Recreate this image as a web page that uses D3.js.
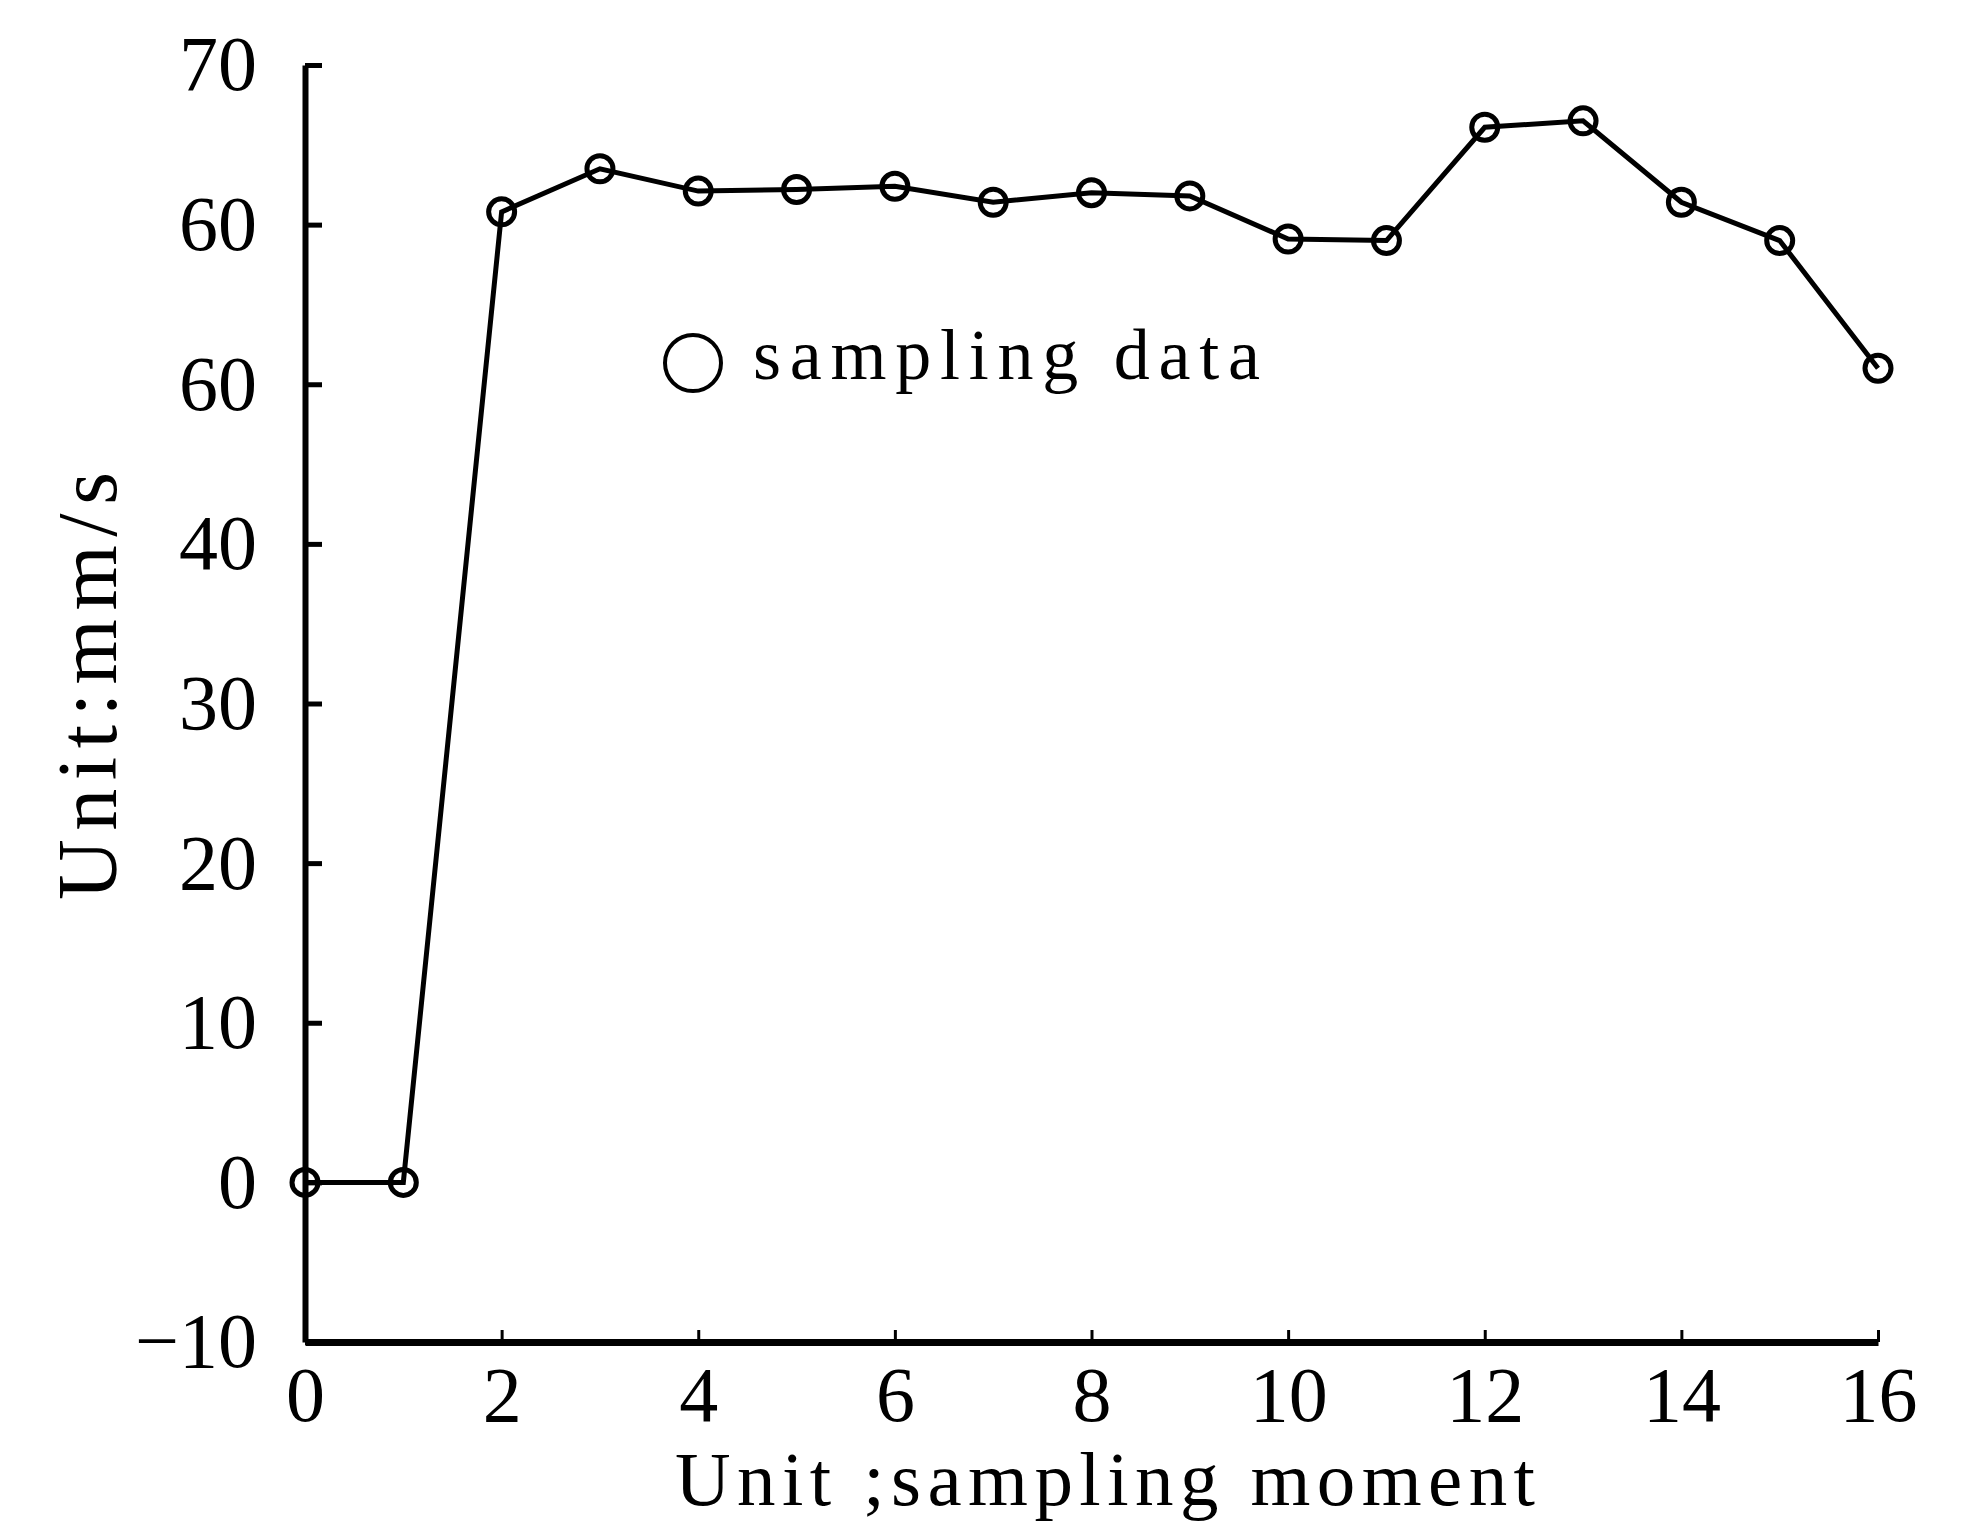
<!DOCTYPE html>
<html>
<head>
<meta charset="utf-8">
<script src="https://cdn.jsdelivr.net/npm/d3@7"></script>
<style>
  body { margin: 0; background: #fff; }
  text { font-family: "Liberation Serif", "DejaVu Serif", serif; fill: #000; }
</style>
</head>
<body>
<div id="chart"></div>
<script>
const width = 1976;
const height = 1523;

// data
const moments = [0, 1, 2, 3, 4, 5, 6, 7, 8, 9, 10, 11, 12, 13, 14, 15, 16];
const speeds = [0, 0, 60.8, 63.5, 62.1, 62.2, 62.4, 61.4, 62.0, 61.8, 59.1, 59.0, 66.1, 66.5, 61.4, 59.0, 51.0];
const xTicks = [0, 2, 4, 6, 8, 10, 12, 14, 16];
const yTicks = [-10, 0, 10, 20, 30, 40, 50, 60, 70];
const yTickLabels = ["\u221210", "0", "10", "20", "30", "40", "60", "60", "70"];

const svg = d3
  .select("#chart")
  .append("svg")
  .attr("width", width)
  .attr("height", height);

const xScale = d3.scaleLinear().domain([0, 16]).range([305, 1878]);
const yScale = d3.scaleLinear().domain([-10, 70]).range([1342, 65]);

// y axis, ticks pointing inward
const yAxis = svg
  .append("g")
  .attr("transform", `translate(${xScale(0)},0)`)
  .call(
    d3.axisLeft(yScale)
      .tickValues(yTicks)
      .tickFormat((d, i) => yTickLabels[i])
      .tickSizeInner(-17)
      .tickSizeOuter(0)
      .tickPadding(48)
  );
yAxis.select(".domain").attr("stroke-width", 6);
yAxis.selectAll(".tick line").attr("stroke-width", 5);
yAxis.selectAll(".tick text").attr("font-size", 78).attr("fill", "#000");

// x axis
const xAxis = svg
  .append("g")
  .attr("transform", `translate(0,${yScale(-10)})`)
  .call(
    d3.axisBottom(xScale)
      .tickValues(xTicks)
      .tickSizeInner(-12)
      .tickSizeOuter(0)
      .tickPadding(24)
  );
xAxis.select(".domain").attr("stroke-width", 7);
xAxis.selectAll(".tick line").attr("stroke-width", 3);
xAxis.selectAll(".tick text").attr("font-size", 78).attr("fill", "#000");

// axis titles
svg
  .append("text")
  .attr("x", 1105)
  .attr("y", 1505)
  .attr("text-anchor", "middle")
  .attr("font-size", 77)
  .attr("textLength", 860)
  .attr("lengthAdjust", "spacing")
  .text("Unit ;sampling moment");

svg
  .append("text")
  .attr("transform", "translate(116,686) rotate(-90)")
  .attr("text-anchor", "middle")
  .attr("font-size", 84)
  .attr("textLength", 428)
  .attr("lengthAdjust", "spacing")
  .text("Unit:mm/s");

// line
const line = d3
  .line()
  .x((d, i) => xScale(moments[i]))
  .y((d) => yScale(d));

svg
  .append("path")
  .datum(speeds)
  .attr("d", line)
  .attr("fill", "none")
  .attr("stroke", "#000")
  .attr("stroke-width", 5);

// markers
svg
  .selectAll("circle.pt")
  .data(speeds)
  .enter()
  .append("circle")
  .attr("class", "pt")
  .attr("cx", (d, i) => xScale(moments[i]))
  .attr("cy", (d) => yScale(d))
  .attr("r", 13)
  .attr("fill", "none")
  .attr("stroke", "#000")
  .attr("stroke-width", 5);

// legend
const legend = svg.append("g").attr("transform", "translate(693,363)");
legend
  .append("circle")
  .attr("r", 28)
  .attr("fill", "none")
  .attr("stroke", "#000")
  .attr("stroke-width", 4);
legend
  .append("text")
  .attr("x", 60)
  .attr("y", 16)
  .attr("font-size", 72)
  .attr("textLength", 507)
  .attr("lengthAdjust", "spacing")
  .text("sampling data");
</script>
</body>
</html>
